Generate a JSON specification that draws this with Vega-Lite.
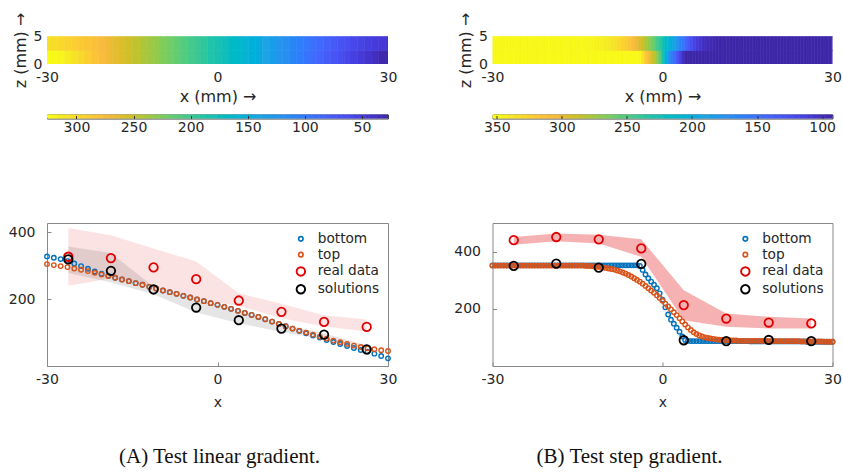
{
"$schema": "https://vega.github.io/schema/vega-lite/v6.json",
"background": "white",
"padding": {"left": 7, "top": 12, "right": 0, "bottom": 5},
"config": {
  "font": "DejaVu Sans",
  "view": {"stroke": null},
  "axis": {"labelFont": "DejaVu Sans", "labelFontSize": 14, "labelColor": "#262626", "titleFont": "DejaVu Sans", "titleFontSize": 14, "titleFontWeight": "normal", "titleColor": "#262626", "grid": false, "domain": false, "ticks": false, "labelFlush": false, "labelExpr": "datum.value + ''"},
  "legend": {"labelFont": "DejaVu Sans", "labelFontSize": 13.7, "labelColor": "#262626"}
},
"datasets": {
  "curvesA": [
    {"x":-30,"z":0,"series":"bottom","v":328},{"x":-28.8,"z":0,"series":"bottom","v":324},{"x":-27.6,"z":0,"series":"bottom","v":320},{"x":-26.4,"z":0,"series":"bottom","v":314},{"x":-25.2,"z":0,"series":"bottom","v":307},{"x":-24,"z":0,"series":"bottom","v":299},{"x":-22.8,"z":0,"series":"bottom","v":291},{"x":-21.6,"z":0,"series":"bottom","v":283},{"x":-20.4,"z":0,"series":"bottom","v":276},{"x":-19.2,"z":0,"series":"bottom","v":270},
    {"x":-18,"z":0,"series":"bottom","v":264},{"x":-16.8,"z":0,"series":"bottom","v":259},{"x":-15.6,"z":0,"series":"bottom","v":254},{"x":-14.4,"z":0,"series":"bottom","v":248},{"x":-13.2,"z":0,"series":"bottom","v":243},{"x":-12,"z":0,"series":"bottom","v":237},{"x":-10.8,"z":0,"series":"bottom","v":232},{"x":-9.6,"z":0,"series":"bottom","v":226},{"x":-8.4,"z":0,"series":"bottom","v":221},{"x":-7.2,"z":0,"series":"bottom","v":216},{"x":-6,"z":0,"series":"bottom","v":210},{"x":-4.8,"z":0,"series":"bottom","v":205},{"x":-3.6,"z":0,"series":"bottom","v":199},{"x":-2.4,"z":0,"series":"bottom","v":194},{"x":-1.2,"z":0,"series":"bottom","v":188},{"x":0,"z":0,"series":"bottom","v":183},{"x":1.2,"z":0,"series":"bottom","v":177},{"x":2.4,"z":0,"series":"bottom","v":171},{"x":3.6,"z":0,"series":"bottom","v":165},{"x":4.8,"z":0,"series":"bottom","v":159},{"x":6,"z":0,"series":"bottom","v":153},{"x":7.2,"z":0,"series":"bottom","v":147},{"x":8.4,"z":0,"series":"bottom","v":140},{"x":9.6,"z":0,"series":"bottom","v":133},{"x":10.8,"z":0,"series":"bottom","v":126},{"x":12,"z":0,"series":"bottom","v":119},{"x":13.2,"z":0,"series":"bottom","v":112},
    {"x":14.4,"z":0,"series":"bottom","v":105},{"x":15.6,"z":0,"series":"bottom","v":98},{"x":16.8,"z":0,"series":"bottom","v":91},{"x":18,"z":0,"series":"bottom","v":85},{"x":19.2,"z":0,"series":"bottom","v":78},{"x":20.4,"z":0,"series":"bottom","v":72},{"x":21.6,"z":0,"series":"bottom","v":66},{"x":22.8,"z":0,"series":"bottom","v":60},{"x":24,"z":0,"series":"bottom","v":54},{"x":25.2,"z":0,"series":"bottom","v":48},{"x":26.4,"z":0,"series":"bottom","v":43},{"x":27.6,"z":0,"series":"bottom","v":37},{"x":28.8,"z":0,"series":"bottom","v":30},{"x":30,"z":0,"series":"bottom","v":23},
    {"x":-30,"z":5,"series":"top","v":305},{"x":-28.8,"z":5,"series":"top","v":302},{"x":-27.6,"z":5,"series":"top","v":299},{"x":-26.4,"z":5,"series":"top","v":296},{"x":-25.2,"z":5,"series":"top","v":292},{"x":-24,"z":5,"series":"top","v":288},{"x":-22.8,"z":5,"series":"top","v":284},{"x":-21.6,"z":5,"series":"top","v":279},{"x":-20.4,"z":5,"series":"top","v":274},{"x":-19.2,"z":5,"series":"top","v":269},{"x":-18,"z":5,"series":"top","v":264},{"x":-16.8,"z":5,"series":"top","v":259},{"x":-15.6,"z":5,"series":"top","v":254},{"x":-14.4,"z":5,"series":"top","v":248},{"x":-13.2,"z":5,"series":"top","v":243},{"x":-12,"z":5,"series":"top","v":237},{"x":-10.8,"z":5,"series":"top","v":232},{"x":-9.6,"z":5,"series":"top","v":226},{"x":-8.4,"z":5,"series":"top","v":221},{"x":-7.2,"z":5,"series":"top","v":216},{"x":-6,"z":5,"series":"top","v":210},{"x":-4.8,"z":5,"series":"top","v":205},{"x":-3.6,"z":5,"series":"top","v":199},{"x":-2.4,"z":5,"series":"top","v":194},{"x":-1.2,"z":5,"series":"top","v":188},{"x":0,"z":5,"series":"top","v":183},{"x":1.2,"z":5,"series":"top","v":177},{"x":2.4,"z":5,"series":"top","v":171},{"x":3.6,"z":5,"series":"top","v":165},{"x":4.8,"z":5,"series":"top","v":159},{"x":6,"z":5,"series":"top","v":153},{"x":7.2,"z":5,"series":"top","v":147},{"x":8.4,"z":5,"series":"top","v":140},{"x":9.6,"z":5,"series":"top","v":133},{"x":10.8,"z":5,"series":"top","v":126},{"x":12,"z":5,"series":"top","v":119},{"x":13.2,"z":5,"series":"top","v":112},{"x":14.4,"z":5,"series":"top","v":106},{"x":15.6,"z":5,"series":"top","v":100},{"x":16.8,"z":5,"series":"top","v":94},{"x":18,"z":5,"series":"top","v":88},{"x":19.2,"z":5,"series":"top","v":82},{"x":20.4,"z":5,"series":"top","v":76},{"x":21.6,"z":5,"series":"top","v":71},{"x":22.8,"z":5,"series":"top","v":66},{"x":24,"z":5,"series":"top","v":61},{"x":25.2,"z":5,"series":"top","v":57},{"x":26.4,"z":5,"series":"top","v":53},{"x":27.6,"z":5,"series":"top","v":50},{"x":28.8,"z":5,"series":"top","v":47},{"x":30,"z":5,"series":"top","v":45}
  ],
  "obsA": [
    {"x":-26.25,"series":"real data","v":327,"lo":240,"hi":413},{"x":-18.75,"series":"real data","v":323,"lo":262,"hi":391},{"x":-11.25,"series":"real data","v":295,"lo":238,"hi":352},{"x":-3.75,"series":"real data","v":260,"lo":198,"hi":313},{"x":3.75,"series":"real data","v":196,"lo":180,"hi":218},{"x":11.25,"series":"real data","v":162,"lo":143,"hi":186},{"x":18.75,"series":"real data","v":132,"lo":118,"hi":152},{"x":26.25,"series":"real data","v":117,"lo":103,"hi":139},
    {"x":-26.25,"series":"solutions","v":319,"lo":278,"hi":358},{"x":-18.75,"series":"solutions","v":285,"lo":250,"hi":338},{"x":-11.25,"series":"solutions","v":229,"lo":215,"hi":238},{"x":-3.75,"series":"solutions","v":175,"lo":160,"hi":200},{"x":3.75,"series":"solutions","v":137,"lo":128,"hi":168},{"x":11.25,"series":"solutions","v":112,"lo":102,"hi":125},{"x":18.75,"series":"solutions","v":94,"lo":80,"hi":98},{"x":26.25,"series":"solutions","v":50,"lo":40,"hi":62}
  ],
  "curvesB": [
    {"x":-30,"z":0,"series":"bottom","v":352},{"x":-29.5,"z":0,"series":"bottom","v":352},{"x":-29,"z":0,"series":"bottom","v":352},{"x":-28.5,"z":0,"series":"bottom","v":352},{"x":-28,"z":0,"series":"bottom","v":352},{"x":-27.5,"z":0,"series":"bottom","v":352},{"x":-27,"z":0,"series":"bottom","v":352},{"x":-26.5,"z":0,"series":"bottom","v":352},{"x":-26,"z":0,"series":"bottom","v":352},{"x":-25.5,"z":0,"series":"bottom","v":352},{"x":-25,"z":0,"series":"bottom","v":352},{"x":-24.5,"z":0,"series":"bottom","v":352},{"x":-24,"z":0,"series":"bottom","v":352},{"x":-23.5,"z":0,"series":"bottom","v":352},{"x":-23,"z":0,"series":"bottom","v":352},{"x":-22.5,"z":0,"series":"bottom","v":352},{"x":-22,"z":0,"series":"bottom","v":352},{"x":-21.5,"z":0,"series":"bottom","v":352},{"x":-21,"z":0,"series":"bottom","v":352},{"x":-20.5,"z":0,"series":"bottom","v":352},{"x":-20,"z":0,"series":"bottom","v":352},{"x":-19.5,"z":0,"series":"bottom","v":352},{"x":-19,"z":0,"series":"bottom","v":352},{"x":-18.5,"z":0,"series":"bottom","v":352},{"x":-18,"z":0,"series":"bottom","v":352},{"x":-17.5,"z":0,"series":"bottom","v":352},{"x":-17,"z":0,"series":"bottom","v":352},{"x":-16.5,"z":0,"series":"bottom","v":352},{"x":-16,"z":0,"series":"bottom","v":352},{"x":-15.5,"z":0,"series":"bottom","v":352},{"x":-15,"z":0,"series":"bottom","v":352},{"x":-14.5,"z":0,"series":"bottom","v":352},{"x":-14,"z":0,"series":"bottom","v":352},{"x":-13.5,"z":0,"series":"bottom","v":352},{"x":-13,"z":0,"series":"bottom","v":352},{"x":-12.5,"z":0,"series":"bottom","v":352},{"x":-12,"z":0,"series":"bottom","v":352},{"x":-11.5,"z":0,"series":"bottom","v":352},{"x":-11,"z":0,"series":"bottom","v":352},{"x":-10.5,"z":0,"series":"bottom","v":352},{"x":-10,"z":0,"series":"bottom","v":352},{"x":-9.5,"z":0,"series":"bottom","v":352},{"x":-9,"z":0,"series":"bottom","v":352},{"x":-8.5,"z":0,"series":"bottom","v":352},{"x":-8,"z":0,"series":"bottom","v":352},{"x":-7.5,"z":0,"series":"bottom","v":352},{"x":-7,"z":0,"series":"bottom","v":352},{"x":-6.5,"z":0,"series":"bottom","v":352},{"x":-6,"z":0,"series":"bottom","v":352},{"x":-5.5,"z":0,"series":"bottom","v":352},{"x":-5,"z":0,"series":"bottom","v":352},{"x":-4.5,"z":0,"series":"bottom","v":352},
    {"x":-4,"z":0,"series":"bottom","v":350},{"x":-3.5,"z":0,"series":"bottom","v":336},{"x":-3,"z":0,"series":"bottom","v":320},{"x":-2.5,"z":0,"series":"bottom","v":307},{"x":-2,"z":0,"series":"bottom","v":295},{"x":-1.5,"z":0,"series":"bottom","v":284},{"x":-1,"z":0,"series":"bottom","v":272},{"x":-0.5,"z":0,"series":"bottom","v":254},{"x":0,"z":0,"series":"bottom","v":232},{"x":0.5,"z":0,"series":"bottom","v":205},{"x":1,"z":0,"series":"bottom","v":180},{"x":1.5,"z":0,"series":"bottom","v":162},{"x":2,"z":0,"series":"bottom","v":148},{"x":2.5,"z":0,"series":"bottom","v":134},{"x":3,"z":0,"series":"bottom","v":120},{"x":3.5,"z":0,"series":"bottom","v":103},{"x":4,"z":0,"series":"bottom","v":91},{"x":4.5,"z":0,"series":"bottom","v":88},
    {"x":5,"z":0,"series":"bottom","v":87},{"x":5.5,"z":0,"series":"bottom","v":87},{"x":6,"z":0,"series":"bottom","v":87},{"x":6.5,"z":0,"series":"bottom","v":87},{"x":7,"z":0,"series":"bottom","v":87},{"x":7.5,"z":0,"series":"bottom","v":87},{"x":8,"z":0,"series":"bottom","v":87},{"x":8.5,"z":0,"series":"bottom","v":87},{"x":9,"z":0,"series":"bottom","v":87},{"x":9.5,"z":0,"series":"bottom","v":87},{"x":10,"z":0,"series":"bottom","v":87},{"x":10.5,"z":0,"series":"bottom","v":87},{"x":11,"z":0,"series":"bottom","v":87},{"x":11.5,"z":0,"series":"bottom","v":87},{"x":12,"z":0,"series":"bottom","v":87},{"x":12.5,"z":0,"series":"bottom","v":87},{"x":13,"z":0,"series":"bottom","v":87},{"x":13.5,"z":0,"series":"bottom","v":87},{"x":14,"z":0,"series":"bottom","v":87},{"x":14.5,"z":0,"series":"bottom","v":87},{"x":15,"z":0,"series":"bottom","v":87},
    {"x":15.5,"z":0,"series":"bottom","v":86},{"x":16,"z":0,"series":"bottom","v":86},{"x":16.5,"z":0,"series":"bottom","v":86},{"x":17,"z":0,"series":"bottom","v":86},{"x":17.5,"z":0,"series":"bottom","v":86},{"x":18,"z":0,"series":"bottom","v":86},{"x":18.5,"z":0,"series":"bottom","v":86},{"x":19,"z":0,"series":"bottom","v":86},{"x":19.5,"z":0,"series":"bottom","v":86},{"x":20,"z":0,"series":"bottom","v":86},{"x":20.5,"z":0,"series":"bottom","v":86},{"x":21,"z":0,"series":"bottom","v":86},{"x":21.5,"z":0,"series":"bottom","v":86},{"x":22,"z":0,"series":"bottom","v":86},{"x":22.5,"z":0,"series":"bottom","v":86},{"x":23,"z":0,"series":"bottom","v":86},{"x":23.5,"z":0,"series":"bottom","v":86},{"x":24,"z":0,"series":"bottom","v":86},{"x":24.5,"z":0,"series":"bottom","v":86},{"x":25,"z":0,"series":"bottom","v":86},
    {"x":25.5,"z":0,"series":"bottom","v":85},{"x":26,"z":0,"series":"bottom","v":85},{"x":26.5,"z":0,"series":"bottom","v":85},{"x":27,"z":0,"series":"bottom","v":85},{"x":27.5,"z":0,"series":"bottom","v":85},{"x":28,"z":0,"series":"bottom","v":85},{"x":28.5,"z":0,"series":"bottom","v":85},{"x":29,"z":0,"series":"bottom","v":85},{"x":29.5,"z":0,"series":"bottom","v":85},{"x":30,"z":0,"series":"bottom","v":85},
    {"x":-30,"z":5,"series":"top","v":351},{"x":-29.5,"z":5,"series":"top","v":351},{"x":-29,"z":5,"series":"top","v":351},{"x":-28.5,"z":5,"series":"top","v":351},{"x":-28,"z":5,"series":"top","v":351},{"x":-27.5,"z":5,"series":"top","v":351},{"x":-27,"z":5,"series":"top","v":351},{"x":-26.5,"z":5,"series":"top","v":351},{"x":-26,"z":5,"series":"top","v":351},{"x":-25.5,"z":5,"series":"top","v":351},{"x":-25,"z":5,"series":"top","v":351},{"x":-24.5,"z":5,"series":"top","v":351},{"x":-24,"z":5,"series":"top","v":351},{"x":-23.5,"z":5,"series":"top","v":351},{"x":-23,"z":5,"series":"top","v":351},{"x":-22.5,"z":5,"series":"top","v":351},{"x":-22,"z":5,"series":"top","v":351},{"x":-21.5,"z":5,"series":"top","v":351},{"x":-21,"z":5,"series":"top","v":351},{"x":-20.5,"z":5,"series":"top","v":351},{"x":-20,"z":5,"series":"top","v":351},{"x":-19.5,"z":5,"series":"top","v":351},{"x":-19,"z":5,"series":"top","v":351},{"x":-18.5,"z":5,"series":"top","v":351},{"x":-18,"z":5,"series":"top","v":351},{"x":-17.5,"z":5,"series":"top","v":351},{"x":-17,"z":5,"series":"top","v":351},{"x":-16.5,"z":5,"series":"top","v":351},{"x":-16,"z":5,"series":"top","v":351},{"x":-15.5,"z":5,"series":"top","v":351},{"x":-15,"z":5,"series":"top","v":351},{"x":-14.5,"z":5,"series":"top","v":351},{"x":-14,"z":5,"series":"top","v":351},
    {"x":-13.5,"z":5,"series":"top","v":350},{"x":-13,"z":5,"series":"top","v":350},{"x":-12.5,"z":5,"series":"top","v":349},{"x":-12,"z":5,"series":"top","v":348},{"x":-11.5,"z":5,"series":"top","v":347},{"x":-11,"z":5,"series":"top","v":346},{"x":-10.5,"z":5,"series":"top","v":344},{"x":-10,"z":5,"series":"top","v":343},{"x":-9.5,"z":5,"series":"top","v":341},{"x":-9,"z":5,"series":"top","v":339},{"x":-8.5,"z":5,"series":"top","v":337},{"x":-8,"z":5,"series":"top","v":334},{"x":-7.5,"z":5,"series":"top","v":331},{"x":-7,"z":5,"series":"top","v":327},{"x":-6.5,"z":5,"series":"top","v":323},{"x":-6,"z":5,"series":"top","v":318},{"x":-5.5,"z":5,"series":"top","v":313},{"x":-5,"z":5,"series":"top","v":307},{"x":-4.5,"z":5,"series":"top","v":301},{"x":-4,"z":5,"series":"top","v":295},{"x":-3.5,"z":5,"series":"top","v":288},{"x":-3,"z":5,"series":"top","v":280},{"x":-2.5,"z":5,"series":"top","v":272},{"x":-2,"z":5,"series":"top","v":264},{"x":-1.5,"z":5,"series":"top","v":256},{"x":-1,"z":5,"series":"top","v":247},{"x":-0.5,"z":5,"series":"top","v":238},{"x":0,"z":5,"series":"top","v":228},{"x":0.5,"z":5,"series":"top","v":218},{"x":1,"z":5,"series":"top","v":208},{"x":1.5,"z":5,"series":"top","v":198},{"x":2,"z":5,"series":"top","v":188},{"x":2.5,"z":5,"series":"top","v":178},{"x":3,"z":5,"series":"top","v":167},{"x":3.5,"z":5,"series":"top","v":156},{"x":4,"z":5,"series":"top","v":145},{"x":4.5,"z":5,"series":"top","v":135},{"x":5,"z":5,"series":"top","v":126},{"x":5.5,"z":5,"series":"top","v":118},{"x":6,"z":5,"series":"top","v":112},{"x":6.5,"z":5,"series":"top","v":107},{"x":7,"z":5,"series":"top","v":103},{"x":7.5,"z":5,"series":"top","v":100},{"x":8,"z":5,"series":"top","v":98},{"x":8.5,"z":5,"series":"top","v":96},{"x":9,"z":5,"series":"top","v":95},{"x":9.5,"z":5,"series":"top","v":93},{"x":10,"z":5,"series":"top","v":92},{"x":10.5,"z":5,"series":"top","v":91},{"x":11,"z":5,"series":"top","v":90},{"x":11.5,"z":5,"series":"top","v":90},{"x":12,"z":5,"series":"top","v":89},{"x":12.5,"z":5,"series":"top","v":89},{"x":13,"z":5,"series":"top","v":89},
    {"x":13.5,"z":5,"series":"top","v":88},{"x":14,"z":5,"series":"top","v":88},{"x":14.5,"z":5,"series":"top","v":88},{"x":15,"z":5,"series":"top","v":88},{"x":15.5,"z":5,"series":"top","v":88},{"x":16,"z":5,"series":"top","v":88},{"x":16.5,"z":5,"series":"top","v":88},{"x":17,"z":5,"series":"top","v":88},{"x":17.5,"z":5,"series":"top","v":88},{"x":18,"z":5,"series":"top","v":88},
    {"x":18.5,"z":5,"series":"top","v":87},{"x":19,"z":5,"series":"top","v":87},{"x":19.5,"z":5,"series":"top","v":87},{"x":20,"z":5,"series":"top","v":87},{"x":20.5,"z":5,"series":"top","v":87},{"x":21,"z":5,"series":"top","v":87},{"x":21.5,"z":5,"series":"top","v":87},{"x":22,"z":5,"series":"top","v":87},{"x":22.5,"z":5,"series":"top","v":87},{"x":23,"z":5,"series":"top","v":87},{"x":23.5,"z":5,"series":"top","v":87},{"x":24,"z":5,"series":"top","v":87},
    {"x":24.5,"z":5,"series":"top","v":86},{"x":25,"z":5,"series":"top","v":86},{"x":25.5,"z":5,"series":"top","v":86},{"x":26,"z":5,"series":"top","v":86},{"x":26.5,"z":5,"series":"top","v":86},{"x":27,"z":5,"series":"top","v":86},{"x":27.5,"z":5,"series":"top","v":86},{"x":28,"z":5,"series":"top","v":86},
    {"x":28.5,"z":5,"series":"top","v":85},{"x":29,"z":5,"series":"top","v":85},{"x":29.5,"z":5,"series":"top","v":85},{"x":30,"z":5,"series":"top","v":85}
  ],
  "obsB": [
    {"x":-26.25,"series":"real data","v":440,"lo":424,"hi":451},{"x":-18.75,"series":"real data","v":451,"lo":436,"hi":463},{"x":-11.25,"series":"real data","v":443,"lo":428,"hi":459},{"x":-3.75,"series":"real data","v":411,"lo":382,"hi":443},{"x":3.75,"series":"real data","v":213,"lo":160,"hi":265},{"x":11.25,"series":"real data","v":166,"lo":137,"hi":184},{"x":18.75,"series":"real data","v":152,"lo":131,"hi":172},{"x":26.25,"series":"real data","v":149,"lo":131,"hi":166},
    {"x":-26.25,"series":"solutions","v":350,"lo":345,"hi":356},{"x":-18.75,"series":"solutions","v":358,"lo":350,"hi":362},{"x":-11.25,"series":"solutions","v":344,"lo":340,"hi":350},{"x":-3.75,"series":"solutions","v":357,"lo":350,"hi":362},{"x":3.75,"series":"solutions","v":90,"lo":85,"hi":95},{"x":11.25,"series":"solutions","v":87,"lo":83,"hi":92},{"x":18.75,"series":"solutions","v":91,"lo":86,"hi":96},{"x":26.25,"series":"solutions","v":87,"lo":83,"hi":92}
  ],
  "cbarA": [
    {"v":25},{"v":30},{"v":35},{"v":40},{"v":45},{"v":50},{"v":55},{"v":60},{"v":65},{"v":70},{"v":75},{"v":80},{"v":85},{"v":90},{"v":95},{"v":100},{"v":105},{"v":110},{"v":115},{"v":120},{"v":125},{"v":130},{"v":135},{"v":140},{"v":145},{"v":150},{"v":155},{"v":160},{"v":165},{"v":170},{"v":175},{"v":180},{"v":185},{"v":190},{"v":195},{"v":200},{"v":205},{"v":210},{"v":215},{"v":220},{"v":225},{"v":230},{"v":235},{"v":240},{"v":245},{"v":250},{"v":255},{"v":260},{"v":265},{"v":270},{"v":275},{"v":280},{"v":285},{"v":290},{"v":295},{"v":300},{"v":305},{"v":310},{"v":315},{"v":320},{"v":325}
  ],
  "cbarB": [
    {"v":90},{"v":95},{"v":100},{"v":105},{"v":110},{"v":115},{"v":120},{"v":125},{"v":130},{"v":135},{"v":140},{"v":145},{"v":150},{"v":155},{"v":160},{"v":165},{"v":170},{"v":175},{"v":180},{"v":185},{"v":190},{"v":195},{"v":200},{"v":205},{"v":210},{"v":215},{"v":220},{"v":225},{"v":230},{"v":235},{"v":240},{"v":245},{"v":250},{"v":255},{"v":260},{"v":265},{"v":270},{"v":275},{"v":280},{"v":285},{"v":290},{"v":295},{"v":300},{"v":305},{"v":310},{"v":315},{"v":320},{"v":325},{"v":330},{"v":335},{"v":340},{"v":345},{"v":350},{"v":355}
  ]
},
"hconcat": [
  {
    "vconcat": [
      {
        "vconcat": [
          {
            "width": 341, "height": 28,
            "data": {"name": "curvesA"},
            "mark": {"type": "rect", "clip": true, "strokeWidth": 0.6},
            "encoding": {
              "x": {"field": "x", "type": "quantitative", "bin": {"step": 1.2, "anchor": -30.6, "extent": [-30.6, 30.6], "nice": false}, "scale": {"domain": [-30, 30]}, "axis": {"values": [-30, 0, 30], "title": "x (mm) →", "titleFontSize": 16, "labelPadding": 6, "titlePadding": 4}},
              "y": {"field": "z", "type": "quantitative", "bin": {"step": 2.5, "extent": [0, 5], "nice": false}, "scale": {"domain": [0, 5]}, "axis": {"values": [0, 5], "title": "z (mm) →", "titleFontSize": 16, "labelPadding": 5, "titlePadding": 5}},
              "color": {"field": "v", "type": "quantitative", "legend": null, "scale": {"type": "linear", "clamp": true, "domain": [27.2,46.2,65.1,83.9,103.0,121.9,141.0,159.8,178.9,197.7,216.8,235.6,254.7,273.5,292.7,311.5,325.8], "range": ["#3E26A8","#4537D5","#484DF0","#4563FD","#327BFC","#2B91EF","#20A5E3","#08B5D0","#19BFB6","#37C897","#64CD6F","#9DC943","#D1BF27","#F8BA3D","#FCCF30","#F5E924","#F9FB15"]}},
              "stroke": {"field": "v", "type": "quantitative", "legend": null, "scale": {"type": "linear", "clamp": true, "domain": [27.2,46.2,65.1,83.9,103.0,121.9,141.0,159.8,178.9,197.7,216.8,235.6,254.7,273.5,292.7,311.5,325.8], "range": ["#3E26A8","#4537D5","#484DF0","#4563FD","#327BFC","#2B91EF","#20A5E3","#08B5D0","#19BFB6","#37C897","#64CD6F","#9DC943","#D1BF27","#F8BA3D","#FCCF30","#F5E924","#F9FB15"]}}
            }
          },
          {
            "width": 341, "height": 4,
            "view": {"stroke": "#444"},
            "data": {"name": "cbarA"},
            "mark": {"type": "rect", "clip": true, "strokeWidth": 0.6},
            "encoding": {
              "x": {"field": "v", "type": "quantitative", "bin": {"step": 5, "extent": [22.5, 327.5], "nice": false}, "scale": {"domain": [27.2, 325.8], "reverse": true}, "axis": {"values": [50, 100, 150, 200, 250, 300], "title": null, "labelPadding": 5, "ticks": true, "tickSize": -3, "tickColor": "#333"}},
              "color": {"field": "v", "type": "quantitative", "legend": null, "scale": {"type": "linear", "clamp": true, "domain": [27.2,46.2,65.1,83.9,103.0,121.9,141.0,159.8,178.9,197.7,216.8,235.6,254.7,273.5,292.7,311.5,325.8], "range": ["#3E26A8","#4537D5","#484DF0","#4563FD","#327BFC","#2B91EF","#20A5E3","#08B5D0","#19BFB6","#37C897","#64CD6F","#9DC943","#D1BF27","#F8BA3D","#FCCF30","#F5E924","#F9FB15"]}},
              "stroke": {"field": "v", "type": "quantitative", "legend": null, "scale": {"type": "linear", "clamp": true, "domain": [27.2,46.2,65.1,83.9,103.0,121.9,141.0,159.8,178.9,197.7,216.8,235.6,254.7,273.5,292.7,311.5,325.8], "range": ["#3E26A8","#4537D5","#484DF0","#4563FD","#327BFC","#2B91EF","#20A5E3","#08B5D0","#19BFB6","#37C897","#64CD6F","#9DC943","#D1BF27","#F8BA3D","#FCCF30","#F5E924","#F9FB15"]}}
            }
          }
        ],
        "spacing": 9.5,
        "resolve": {"scale": {"x": "independent", "y": "independent", "color": "independent", "stroke": "independent"}, "legend": {"color": "independent", "stroke": "independent"}}
      },
      {
        "width": 341, "height": 143,
        "view": {"stroke": "#888"},
        "title": {"text": "(A) Test linear gradient.", "orient": "bottom", "anchor": "middle", "frame": "group", "font": "Liberation Serif", "fontSize": 21, "fontWeight": "normal", "color": "#111", "offset": 37, "dx": 2},
        "encoding": {
          "x": {"field": "x", "type": "quantitative", "scale": {"domain": [-30, 30]}, "axis": {"values": [-30, 0, 30], "title": "x", "ticks": true, "tickSize": -4, "tickColor": "#888", "labelPadding": 10, "titlePadding": 9}},
          "y": {"field": "v", "type": "quantitative", "scale": {"domain": [0, 428]}, "axis": {"values": [200, 400], "title": null, "ticks": true, "tickSize": -4, "tickColor": "#888", "labelPadding": 16}}
        },
        "layer": [
          {
            "data": {"name": "obsA"},
            "transform": [{"filter": "datum.series == 'real data'"}],
            "mark": {"type": "area", "fill": "#E00000", "fillOpacity": 0.11, "strokeWidth": 0},
            "encoding": {"y": {"field": "lo", "type": "quantitative"}, "y2": {"field": "hi"}}
          },
          {
            "data": {"name": "obsA"},
            "transform": [{"filter": "datum.series == 'solutions'"}],
            "mark": {"type": "area", "fill": "#000000", "fillOpacity": 0.1, "strokeWidth": 0},
            "encoding": {"y": {"field": "lo", "type": "quantitative"}, "y2": {"field": "hi"}}
          },
          {
            "data": {"name": "curvesA"},
            "mark": {"type": "point", "filled": false, "size": 20, "strokeWidth": 1.4, "opacity": 1},
            "encoding": {
              "stroke": {"field": "series", "type": "nominal", "scale": {"domain": ["bottom", "top", "real data", "solutions"], "range": ["#0072BD", "#D95319", "#E00000", "#000000"]}, "legend": {"title": null, "orient": "none", "legendX": 247, "legendY": 9, "rowPadding": 0.8, "labelOffset": 10, "symbolType": "circle", "symbolSize": {"expr": "datum.value == 'bottom' || datum.value == 'top' ? 20 : 72"}, "symbolStrokeWidth": {"expr": "datum.value == 'bottom' || datum.value == 'top' ? 1.6 : 1.9"}, "encode": {"symbols": {"enter": {"size": {"signal": "datum.value == 'bottom' || datum.value == 'top' ? 20 : 72"}}, "update": {"fill": {"value": "transparent"}, "size": {"signal": "datum.value == 'bottom' || datum.value == 'top' ? 20 : 72"}, "strokeWidth": {"signal": "datum.value == 'bottom' || datum.value == 'top' ? 1.6 : 1.9"}}}}}}
            }
          },
          {
            "data": {"name": "obsA"},
            "mark": {"type": "point", "filled": false, "size": 72, "strokeWidth": 1.8, "opacity": 1},
            "encoding": {
              "stroke": {"field": "series", "type": "nominal", "scale": {"domain": ["bottom", "top", "real data", "solutions"], "range": ["#0072BD", "#D95319", "#E00000", "#000000"]}, "legend": {"title": null, "orient": "none", "legendX": 247, "legendY": 9, "rowPadding": 0.8, "labelOffset": 10, "symbolType": "circle", "symbolSize": {"expr": "datum.value == 'bottom' || datum.value == 'top' ? 20 : 72"}, "symbolStrokeWidth": {"expr": "datum.value == 'bottom' || datum.value == 'top' ? 1.6 : 1.9"}, "encode": {"symbols": {"enter": {"size": {"signal": "datum.value == 'bottom' || datum.value == 'top' ? 20 : 72"}}, "update": {"fill": {"value": "transparent"}, "size": {"signal": "datum.value == 'bottom' || datum.value == 'top' ? 20 : 72"}, "strokeWidth": {"signal": "datum.value == 'bottom' || datum.value == 'top' ? 1.6 : 1.9"}}}}}}
            }
          }
        ]
      }
    ],
    "spacing": 87,
    "resolve": {"scale": {"x": "independent", "y": "independent", "color": "independent", "stroke": "independent"}, "legend": {"color": "independent", "stroke": "independent"}}
  },
  {
    "vconcat": [
      {
        "vconcat": [
          {
            "width": 340, "height": 28,
            "data": {"name": "curvesB"},
            "mark": {"type": "rect", "clip": true, "strokeWidth": 0.6},
            "encoding": {
              "x": {"field": "x", "type": "quantitative", "bin": {"step": 0.5, "anchor": -30.25, "extent": [-30.25, 30.25], "nice": false}, "scale": {"domain": [-30, 30]}, "axis": {"values": [-30, 0, 30], "title": "x (mm) →", "titleFontSize": 16, "labelPadding": 6, "titlePadding": 4}},
              "y": {"field": "z", "type": "quantitative", "bin": {"step": 2.5, "extent": [0, 5], "nice": false}, "scale": {"domain": [0, 5]}, "axis": {"values": [0, 5], "title": "z (mm) →", "titleFontSize": 16, "labelPadding": 5, "titlePadding": 5}},
              "color": {"field": "v", "type": "quantitative", "legend": null, "scale": {"type": "linear", "clamp": true, "domain": [92,108.6,125.2,141.6,158.4,174.8,191.6,208.0,224.7,241.2,257.9,274.4,291.1,307.6,324.3,340.8,353.3], "range": ["#3E26A8","#4537D5","#484DF0","#4563FD","#327BFC","#2B91EF","#20A5E3","#08B5D0","#19BFB6","#37C897","#64CD6F","#9DC943","#D1BF27","#F8BA3D","#FCCF30","#F5E924","#F9FB15"]}},
              "stroke": {"field": "v", "type": "quantitative", "legend": null, "scale": {"type": "linear", "clamp": true, "domain": [92,108.6,125.2,141.6,158.4,174.8,191.6,208.0,224.7,241.2,257.9,274.4,291.1,307.6,324.3,340.8,353.3], "range": ["#3E26A8","#4537D5","#484DF0","#4563FD","#327BFC","#2B91EF","#20A5E3","#08B5D0","#19BFB6","#37C897","#64CD6F","#9DC943","#D1BF27","#F8BA3D","#FCCF30","#F5E924","#F9FB15"]}}
            }
          },
          {
            "width": 340, "height": 4,
            "view": {"stroke": "#444"},
            "data": {"name": "cbarB"},
            "mark": {"type": "rect", "clip": true, "strokeWidth": 0.6},
            "encoding": {
              "x": {"field": "v", "type": "quantitative", "bin": {"step": 5, "extent": [87.5, 357.5], "nice": false}, "scale": {"domain": [92, 353.3], "reverse": true}, "axis": {"values": [100, 150, 200, 250, 300, 350], "title": null, "labelPadding": 5, "ticks": true, "tickSize": -3, "tickColor": "#333"}},
              "color": {"field": "v", "type": "quantitative", "legend": null, "scale": {"type": "linear", "clamp": true, "domain": [92,108.6,125.2,141.6,158.4,174.8,191.6,208.0,224.7,241.2,257.9,274.4,291.1,307.6,324.3,340.8,353.3], "range": ["#3E26A8","#4537D5","#484DF0","#4563FD","#327BFC","#2B91EF","#20A5E3","#08B5D0","#19BFB6","#37C897","#64CD6F","#9DC943","#D1BF27","#F8BA3D","#FCCF30","#F5E924","#F9FB15"]}},
              "stroke": {"field": "v", "type": "quantitative", "legend": null, "scale": {"type": "linear", "clamp": true, "domain": [92,108.6,125.2,141.6,158.4,174.8,191.6,208.0,224.7,241.2,257.9,274.4,291.1,307.6,324.3,340.8,353.3], "range": ["#3E26A8","#4537D5","#484DF0","#4563FD","#327BFC","#2B91EF","#20A5E3","#08B5D0","#19BFB6","#37C897","#64CD6F","#9DC943","#D1BF27","#F8BA3D","#FCCF30","#F5E924","#F9FB15"]}}
            }
          }
        ],
        "spacing": 9.5,
        "resolve": {"scale": {"x": "independent", "y": "independent", "color": "independent", "stroke": "independent"}, "legend": {"color": "independent", "stroke": "independent"}}
      },
      {
        "width": 340, "height": 143,
        "view": {"stroke": "#888"},
        "title": {"text": "(B) Test step gradient.", "orient": "bottom", "anchor": "middle", "frame": "group", "font": "Liberation Serif", "fontSize": 21, "fontWeight": "normal", "color": "#111", "offset": 37, "dx": -33},
        "encoding": {
          "x": {"field": "x", "type": "quantitative", "scale": {"domain": [-30, 30]}, "axis": {"values": [-30, 0, 30], "title": "x", "ticks": true, "tickSize": -4, "tickColor": "#888", "labelPadding": 10, "titlePadding": 9}},
          "y": {"field": "v", "type": "quantitative", "scale": {"domain": [0, 500]}, "axis": {"values": [200, 400], "title": null, "ticks": true, "tickSize": -4, "tickColor": "#888", "labelPadding": 16}}
        },
        "layer": [
          {
            "data": {"name": "obsB"},
            "transform": [{"filter": "datum.series == 'real data'"}],
            "mark": {"type": "area", "fill": "#E00000", "fillOpacity": 0.3, "strokeWidth": 0},
            "encoding": {"y": {"field": "lo", "type": "quantitative"}, "y2": {"field": "hi"}}
          },
          {
            "data": {"name": "obsB"},
            "transform": [{"filter": "datum.series == 'solutions'"}],
            "mark": {"type": "area", "fill": "#000000", "fillOpacity": 0.1, "strokeWidth": 0},
            "encoding": {"y": {"field": "lo", "type": "quantitative"}, "y2": {"field": "hi"}}
          },
          {
            "data": {"name": "curvesB"},
            "mark": {"type": "point", "filled": false, "size": 20, "strokeWidth": 1.4, "opacity": 1},
            "encoding": {
              "stroke": {"field": "series", "type": "nominal", "scale": {"domain": ["bottom", "top", "real data", "solutions"], "range": ["#0072BD", "#D95319", "#E00000", "#000000"]}, "legend": {"title": null, "orient": "none", "legendX": 246, "legendY": 9, "rowPadding": 0.8, "labelOffset": 10, "symbolType": "circle", "symbolSize": {"expr": "datum.value == 'bottom' || datum.value == 'top' ? 20 : 72"}, "symbolStrokeWidth": {"expr": "datum.value == 'bottom' || datum.value == 'top' ? 1.6 : 1.9"}, "encode": {"symbols": {"enter": {"size": {"signal": "datum.value == 'bottom' || datum.value == 'top' ? 20 : 72"}}, "update": {"fill": {"value": "transparent"}, "size": {"signal": "datum.value == 'bottom' || datum.value == 'top' ? 20 : 72"}, "strokeWidth": {"signal": "datum.value == 'bottom' || datum.value == 'top' ? 1.6 : 1.9"}}}}}}
            }
          },
          {
            "data": {"name": "obsB"},
            "mark": {"type": "point", "filled": false, "size": 72, "strokeWidth": 1.8, "opacity": 1},
            "encoding": {
              "stroke": {"field": "series", "type": "nominal", "scale": {"domain": ["bottom", "top", "real data", "solutions"], "range": ["#0072BD", "#D95319", "#E00000", "#000000"]}, "legend": {"title": null, "orient": "none", "legendX": 246, "legendY": 9, "rowPadding": 0.8, "labelOffset": 10, "symbolType": "circle", "symbolSize": {"expr": "datum.value == 'bottom' || datum.value == 'top' ? 20 : 72"}, "symbolStrokeWidth": {"expr": "datum.value == 'bottom' || datum.value == 'top' ? 1.6 : 1.9"}, "encode": {"symbols": {"enter": {"size": {"signal": "datum.value == 'bottom' || datum.value == 'top' ? 20 : 72"}}, "update": {"fill": {"value": "transparent"}, "size": {"signal": "datum.value == 'bottom' || datum.value == 'top' ? 20 : 72"}, "strokeWidth": {"signal": "datum.value == 'bottom' || datum.value == 'top' ? 1.6 : 1.9"}}}}}}
            }
          }
        ]
      }
    ],
    "spacing": 87,
    "resolve": {"scale": {"x": "independent", "y": "independent", "color": "independent", "stroke": "independent"}, "legend": {"color": "independent", "stroke": "independent"}}
  }
],
"spacing": 54.5,
"resolve": {"scale": {"x": "independent", "y": "independent", "color": "independent", "stroke": "independent"}, "legend": {"color": "independent", "stroke": "independent"}}
}
